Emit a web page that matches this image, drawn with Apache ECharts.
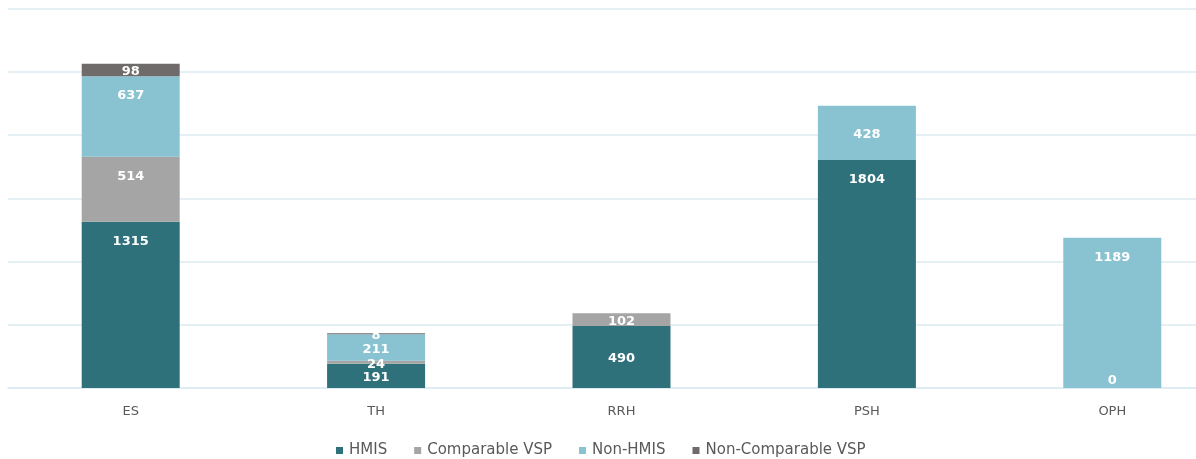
<!DOCTYPE html>
<html>
<head>
<meta charset="utf-8">
<script src="https://cdn.jsdelivr.net/npm/echarts@6/dist/echarts.min.js"></script>
<style>html,body{margin:0;padding:0;background:#fff}#c{width:1196px;height:459px}</style>
</head>
<body>
<div id="c"></div>
<script>
const categories = ['ES', 'TH', 'RRH', 'PSH', 'OPH'];
const hmis = [1315, 191, 490, 1804, 0];
const comparableVSP = [514, 24, 102, null, null];
const nonHmis = [637, 211, null, 428, 1189];
const nonComparableVSP = [98, 8, null, 0, 0];

const seriesNames = ['HMIS', 'Comparable VSP', 'Non-HMIS', 'Non-Comparable VSP'];
const seriesValues = [hmis, comparableVSP, nonHmis, nonComparableVSP];
const colors = ['#2E717B', '#A5A5A5', '#89C2D1', '#6F6B6B'];

function buildData(vals) {
  return vals.map(v => {
    if (v === null) return null;
    const item = { value: v };
    if (v === 0) {
      item.label = { position: 'inside', offset: [0, -7] };
    } else if (v >= 500) {
      item.label = { position: 'insideTop', distance: 13 };
    } else {
      item.label = { position: 'inside', offset: [0, 2] };
    }
    return item;
  });
}

const chart = echarts.init(document.getElementById('c'));
chart.setOption({
  animation: false,
  color: colors,
  textStyle: { fontFamily: 'DejaVu Sans' },
  grid: { left: 8, width: 1227, top: 8.7, bottom: 71, containLabel: false, outerBoundsMode: 'none' },
  legend: {
    top: 443,
    left: 336,
    padding: 0,
    itemWidth: 7,
    itemHeight: 7,
    itemGap: 27,
    icon: 'rect',
    textStyle: { color: '#595959', fontSize: 15, fontFamily: 'DejaVu Sans', padding: [0, 0, 0, 1] },
    data: seriesNames
  },
  xAxis: {
    type: 'category',
    data: categories,
    axisLine: { lineStyle: { color: '#DCEBF2', width: 1.5 } },
    axisTick: { show: false },
    axisLabel: { color: '#595959', fontSize: 13, margin: 17, fontFamily: 'DejaVu Sans' }
  },
  yAxis: {
    type: 'value',
    min: 0,
    max: 3000,
    interval: 500,
    axisLabel: { show: false },
    axisLine: { show: false },
    axisTick: { show: false },
    splitLine: { lineStyle: { color: '#DCEBF2', width: 1.5 } }
  },
  series: seriesNames.map((name, i) => ({
    name: name,
    type: 'bar',
    stack: 'total',
    barWidth: 98,
    data: buildData(seriesValues[i]),
    itemStyle: { color: colors[i] },
    label: {
      show: true,
      color: '#FFFFFF',
      fontSize: 13,
      fontWeight: 'bold',
      fontFamily: 'DejaVu Sans'
    }
  }))
});
</script>
</body>
</html>
